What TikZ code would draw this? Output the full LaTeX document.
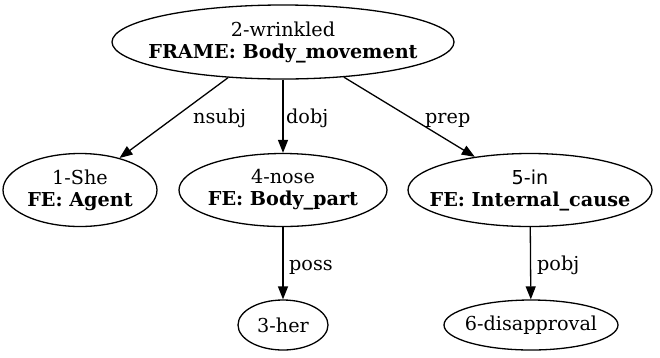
\documentclass[tikz,border=0pt]{standalone}
\usepackage{fontspec}
\setmainfont{DejaVu Serif}
\newfontfamily\plainsans{DejaVu Sans}
\usetikzlibrary{shapes.geometric,arrows.meta}

\tikzset{
  txt/.style={font=\fontsize{19.2}{22}\selectfont},
  % the ellipse is sized by hand, its text sits in a centred label
  word/.style 2 args={draw, ellipse, inner sep=0pt, line width=1.3pt,
    minimum width=#1, minimum height=#2},
  inside/.style={label={[txt, align=center]center:#1}},
  dep/.style={line width=1.3pt, -{Triangle[length=13pt,width=10pt]}},
  rel/.style={txt, anchor=base west, inner sep=0pt}
}

\begin{document}
\begin{tikzpicture}[x=1pt,y=-1pt]
\useasboundingbox (0,0) rectangle (660,357);
% tokens
\node[word={342pt}{74pt}, inside={2-wrinkled\\\textbf{FRAME: Body\_movement}}] (wrinkled) at (283,42) {};
\node[word={154pt}{73pt}, inside={1-She\\\textbf{FE: Agent}}] (she) at (80,190) {};
\node[word={208pt}{73pt}, inside={4-nose\\\textbf{FE: Body\_part}}] (nose) at (283,190) {};
\node[word={244pt}{73pt}, inside={{\plainsans 5-in}\\\textbf{FE: Internal\_cause}}] (in) at (530,190) {};
\node[word={90pt}{50pt}, inside={3-her}] (her) at (283,325) {};
\node[word={174pt}{50pt}, inside={6-disapproval}] (disapproval) at (531,325) {};
% dependencies
\draw[dep] (wrinkled.213) -- (she.39);
\draw[dep] (wrinkled) -- (nose);
\draw[dep] (wrinkled.330) -- (in.149);
\draw[dep] (nose) -- (her);
\draw[dep] (in) -- (disapproval);
% relation labels
\node[rel] (l1) at (193,123) {nsubj};
\node[rel] (l2) at (286,123) {dobj};
\node[rel] (l3) at (425,123) {prep};
\node[rel] (l4) at (289,270) {poss};
\node[rel] (l5) at (537,270) {pobj};
\end{tikzpicture}
\end{document}
